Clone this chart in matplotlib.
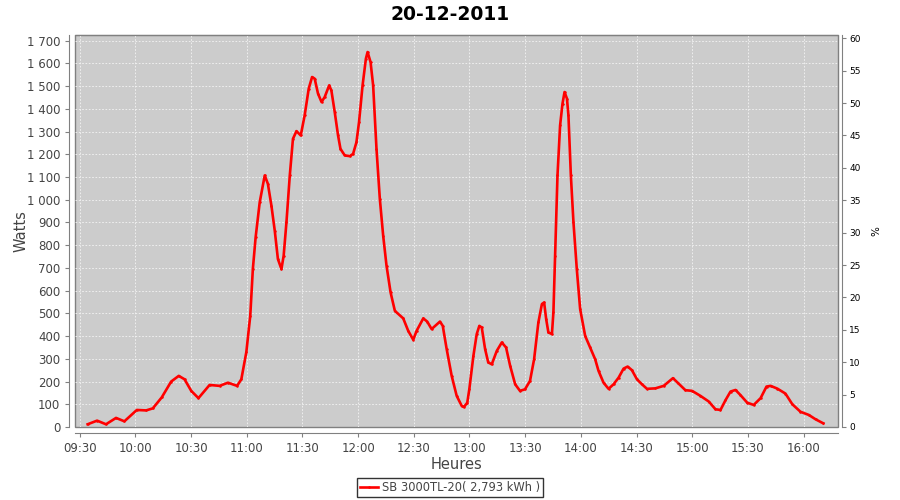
import matplotlib
matplotlib.use("Agg")
import matplotlib.pyplot as plt
from matplotlib.ticker import FuncFormatter, MultipleLocator

# minutes after 09:30, power in W
minutes = [4.3, 9.4, 14.2, 19.6, 24.1, 30.8, 35.8, 39.4, 44.2, 49.3, 53.4, 56.5,
           60.1, 64.0, 70.0, 75.4, 79.9, 84.8, 87.1, 89.8, 91.9, 93.3, 94.8, 97.0,
           99.7, 101.4, 103.3, 105.1, 106.8, 108.7, 109.9, 111.4, 113.2, 114.9,
           116.8, 119.1, 121.2, 123.4, 125.2, 126.6, 128.4, 130.3, 132.0, 134.4,
           135.6, 137.4, 139.2, 140.5, 142.8, 145.5, 147.3, 149.1, 150.5, 152.4,
           154.2, 155.1, 156.7, 158.1, 159.9, 161.7, 163.5, 165.3, 167.5, 169.8,
           174.3, 177.0, 179.7, 181.5, 185.1, 187.2, 189.6, 194.1, 195.6, 197.7,
           200.4, 203.1, 205.8, 207.0, 208.8, 209.9, 212.1, 213.9, 215.3, 216.6,
           218.4, 220.1, 222.0, 224.7, 227.4, 229.7, 231.9, 234.6, 237.2, 239.9,
           242.6, 244.8, 247.1, 249.0, 250.2, 251.3, 252.5, 254.4, 255.2, 256.1,
           257.4, 258.8, 260.1, 261.2, 262.5, 263.3, 264.6, 266.0, 267.8, 269.6,
           272.3, 275.0, 277.7, 279.5, 282.2, 284.9, 287.6, 290.3, 293.0, 295.2,
           297.5, 300.2, 302.9, 305.6, 310.1, 314.6, 319.6, 322.1, 326.3, 329.9,
           334.4, 338.9, 342.5, 345.2, 347.9, 350.6, 353.3, 355.9, 359.6, 363.1,
           366.8, 370.0, 372.2, 375.8, 380.2, 383.9, 388.3, 392.8, 396.4, 400.6]
watts = [12, 28, 12, 40, 25, 75, 73, 82, 130, 200, 225, 210,
         159, 127, 185, 181, 195, 181, 210, 330, 489, 695, 835, 989,
         1107, 1070, 974, 864, 739, 695, 754, 901, 1107, 1268,
         1302, 1283, 1371, 1489, 1540, 1533, 1467, 1430, 1452, 1503,
         1481, 1386, 1283, 1224, 1195, 1192, 1202, 1253, 1342, 1503,
         1621, 1650, 1606, 1503, 1224, 1004, 842, 710, 592, 511,
         478, 423, 384, 423, 478, 464, 431, 464, 445, 343,
         225, 137, 93, 88, 107, 166, 313, 409, 445, 438,
         343, 284, 276, 335, 372, 350, 269, 188, 159, 166,
         203, 298, 460, 541, 548, 475, 416, 409, 504, 754,
         1107, 1327, 1423, 1474, 1445, 1371, 1107, 901, 695, 519,
         401, 350, 298, 247, 195, 168, 188, 217, 257, 266,
         250, 210, 188, 168, 170, 181, 215, 195, 162, 159,
         137, 112, 78, 75, 118, 156, 163, 141, 107, 97,
         127, 178, 181, 169, 147, 100, 67, 53, 34, 16]

title = "20-12-2011"
series_name = "SB 3000TL-20( 2,793 kWh )"
start_hour, start_min = 9, 30

grey_txt = "#444444"


def fmt_time(x, pos=None):
    total = int(round(start_hour * 60 + start_min + x))
    return "%02d:%02d" % (total // 60, total % 60)


def fmt_watts(y, pos=None):
    return "{:,}".format(int(round(y))).replace(",", " ")


fig = plt.figure(figsize=(9, 5), dpi=100)
ax = fig.add_axes([75 / 900, 73 / 500, 763 / 900, 392 / 500])
ax.set_facecolor("#cccccc")
ax.patch.set_edgecolor("#808080")
ax.patch.set_linewidth(1.0)

ax.plot(minutes, watts, color="#ff0000", lw=1.9, marker="o", ms=0.8,
        solid_joinstyle="round", zorder=3)

ax.set_xlim(-2.5, 408.5)
ax.set_ylim(0, 1725)
ax.xaxis.set_major_locator(MultipleLocator(30))
ax.xaxis.set_major_formatter(FuncFormatter(fmt_time))
ax.yaxis.set_major_locator(MultipleLocator(100))
ax.yaxis.set_major_formatter(FuncFormatter(fmt_watts))
ax.grid(True, color="#f4f4f4", ls=(0, (2, 2)), lw=0.6)
ax.set_axisbelow(True)

for side in ["left", "bottom"]:
    ax.spines[side].set_position(("outward", 4))
    ax.spines[side].set_color("#808080")
ax.spines["top"].set_color("#808080")
ax.spines["right"].set_visible(False)
ax.tick_params(axis="both", colors="#808080", labelcolor=grey_txt,
               labelsize=8.5, length=3, width=0.8, direction="out")

ax.set_xlabel("Heures", fontsize=10.5, color=grey_txt, labelpad=2)
ax.set_ylabel("Watts", fontsize=10.5, color=grey_txt, labelpad=-1)

ax2 = ax.twinx()
ax2.set_ylim(0, 60.5)
ax2.yaxis.set_major_locator(MultipleLocator(5))
for side in ["left", "top", "bottom"]:
    ax2.spines[side].set_visible(False)
ax2.spines["right"].set_position(("outward", 3))
ax2.spines["right"].set_color("#808080")
ax2.tick_params(axis="y", colors="#808080", labelcolor="black",
                labelsize=6.5, length=3, width=0.8, pad=2)
ax2.set_ylabel("%", fontsize=7.5, color="black", labelpad=8)

fig.suptitle(title, fontsize=13.5, fontweight="bold", y=0.99)

lgd = fig.legend([ax.lines[0]], [series_name], loc="center", bbox_to_anchor=(0.5, 0.025),
                 fontsize=8.3, frameon=True, fancybox=False, handlelength=1.6,
                 handletextpad=0.3, borderpad=0.25, labelcolor=grey_txt)
lgd.get_frame().set_edgecolor("black")
lgd.get_frame().set_linewidth(1.0)

fig.savefig("out.png", dpi=100)
